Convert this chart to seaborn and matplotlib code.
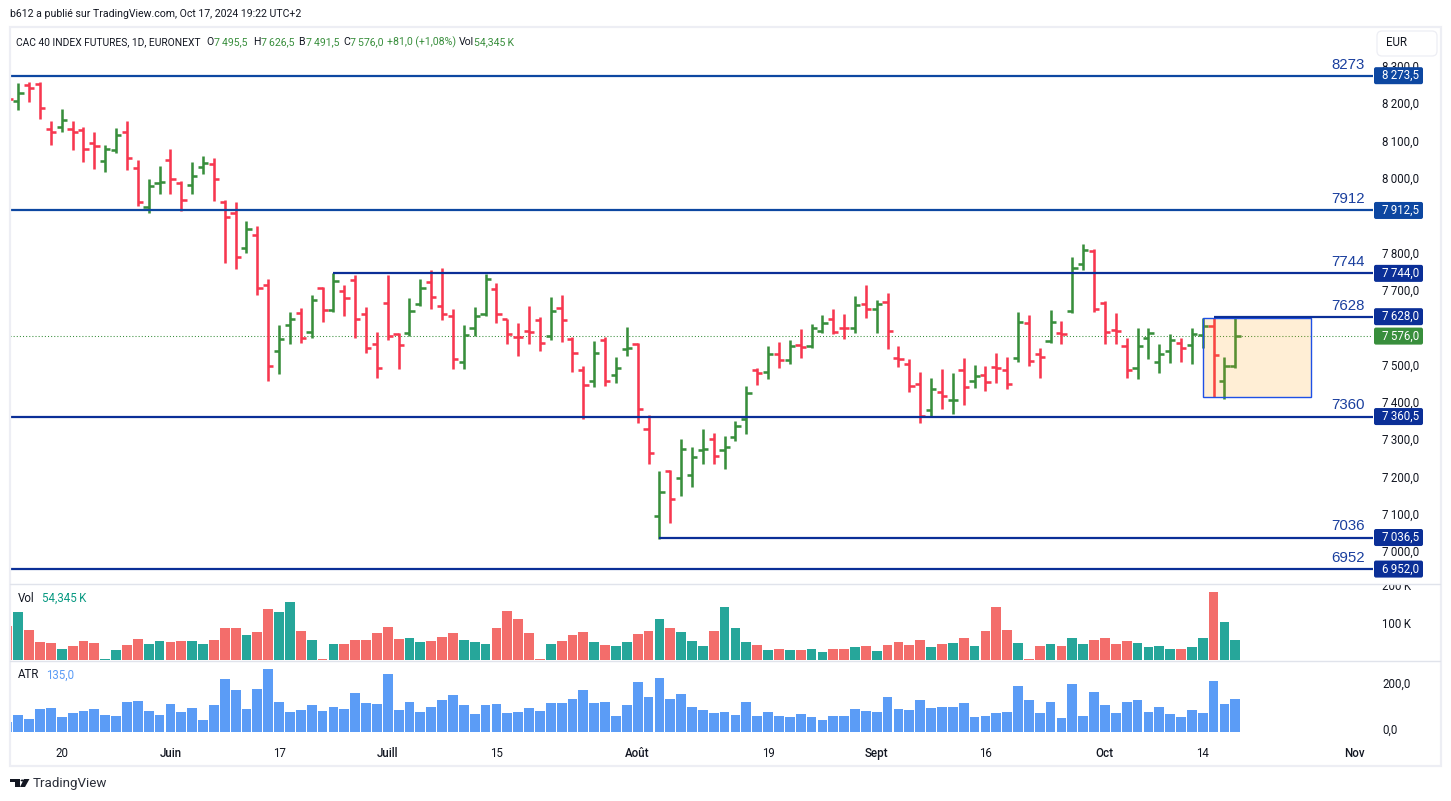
import pandas as pd
import numpy as np
import matplotlib
matplotlib.use("Agg")
import matplotlib.pyplot as plt
from matplotlib.lines import Line2D
from matplotlib.patches import Rectangle, Polygon, Circle, FancyBboxPatch
from matplotlib.transforms import ScaledTranslation, IdentityTransform
import seaborn as sns

W, H = 1451, 801

# OHLC, first entry is the clipped bar on the left edge
opens = [8230,
         8205, 8248, 8250, 8130, 8135, 8130, 8127, 8092, 8044, 8074,
         8124, 8025, 7921, 7985, 8047, 7985, 7982, 8028, 8036, 7934,
         7907, 7811, 7846, 7714, 7535, 7607, 7637, 7586, 7704, 7645,
         7698, 7725, 7634, 7554, 7664, 7581, 7583, 7661, 7720, 7656,
         7629, 7506, 7599, 7634, 7701, 7621, 7573, 7589, 7618, 7575,
         7650, 7567, 7484, 7457, 7565, 7473, 7541, 7554, 7326, 7093,
         7214, 7195, 7203, 7270, 7299.5, 7270, 7305, 7353, 7484, 7479,
         7527, 7511, 7551, 7549, 7589, 7621, 7597, 7597, 7661, 7648,
         7666.5, 7516.5, 7500, 7447, 7377, 7425, 7404, 7484, 7455, 7471,
         7492, 7484, 7516, 7610, 7527, 7562, 7583, 7642, 7768, 7803,
         7664, 7591, 7548.5, 7490, 7570, 7506, 7535, 7557, 7551, 7578,
         7602, 7455, 7495.5]
highs = [8245,
         8253, 8256, 8256, 8152, 8184, 8152, 8136, 8123, 8088, 8133,
         8152, 8048, 7997, 8031, 8077, 7991, 8042, 8058, 8053, 7940,
         7935, 7884, 7871, 7729, 7605, 7640, 7651, 7686, 7707, 7745,
         7712, 7739, 7653, 7587, 7739, 7583, 7678, 7729, 7753, 7758,
         7648, 7606, 7654, 7741, 7718, 7623, 7611, 7657, 7626, 7681,
         7686, 7573, 7495, 7563, 7573, 7520, 7600, 7557, 7365, 7215,
         7217, 7300, 7279, 7327, 7316, 7308, 7349, 7442, 7491, 7549.5,
         7560, 7566, 7595, 7608.5, 7633, 7649, 7635, 7683.5, 7713, 7673,
         7691.5, 7549.5, 7514.5, 7480, 7464, 7488, 7477, 7517, 7498.5, 7496,
         7530.5, 7520, 7640.5, 7632.5, 7544, 7646, 7616, 7788, 7823, 7809,
         7670, 7638, 7571, 7598, 7598, 7555, 7581.5, 7571, 7598, 7624,
         7624, 7520, 7626.5]
lows = [8190,
        8182, 8203, 8158, 8088, 8123, 8074, 8042, 8024, 8015, 8066,
        8021, 7924, 7906, 7957, 7957, 7911, 7957, 8010, 7938, 7772,
        7756, 7798, 7686, 7456, 7474, 7555, 7557, 7571, 7614, 7640,
        7630, 7571, 7531, 7464, 7566, 7488, 7576, 7657, 7649, 7619,
        7488, 7488, 7576, 7630, 7611, 7555, 7523, 7555, 7536, 7566,
        7560, 7480, 7354, 7440, 7442, 7450, 7523, 7343, 7233, 7033,
        7075, 7148, 7172, 7233, 7233, 7220, 7295, 7314, 7445, 7461,
        7491, 7501, 7517, 7544, 7584, 7582, 7568, 7584, 7624.5, 7584,
        7541.5, 7493, 7426, 7343, 7359, 7381, 7367, 7391.5, 7437, 7429,
        7450, 7434, 7506.5, 7496, 7464, 7557.5, 7555, 7638, 7753, 7640,
        7555, 7555, 7464, 7461, 7514.5, 7477, 7504, 7506.5, 7501, 7544,
        7412, 7407.5, 7491.5]
closes = [8210,
          8226, 8240, 8186, 8122, 8154, 8122, 8076, 8084, 8076, 8114,
          8052, 7934, 7977, 7990, 7996, 7940, 8006, 8039, 7998, 7894,
          7789, 7862, 7704, 7497, 7567, 7621, 7570, 7672, 7645, 7723,
          7677, 7623, 7543, 7490, 7575, 7551, 7642, 7704, 7682, 7634,
          7514, 7578, 7629, 7728, 7634, 7581, 7573, 7586, 7557, 7642,
          7618, 7532, 7444, 7532, 7457, 7490, 7543, 7380, 7262, 7157.5,
          7139, 7273, 7251, 7273, 7254, 7278, 7334, 7423, 7476, 7527,
          7511, 7549, 7546, 7597, 7610, 7586, 7597, 7658.5, 7648, 7661,
          7589, 7514, 7441.5, 7361, 7433, 7415, 7404.5, 7439, 7468, 7452,
          7490, 7447, 7613, 7508, 7519, 7613, 7581, 7757.5, 7806, 7648,
          7586, 7589, 7484, 7549, 7583, 7527, 7565, 7543, 7581, 7602,
          7524.5, 7495, 7576]

# Volume in thousands of contracts
volumes = [91.2,
           128.7, 80.4, 48.3, 45.6, 29.5, 37.5, 50.9, 45.6, 2.7, 26.8,
           40.2, 56.3, 42.9, 50.9, 48.3, 50.9, 50.9, 42.9, 53.6, 85.8,
           85.8, 67.0, 75.1, 136.7, 128.7, 155.5, 77.8, 53.6, 2.7, 42.9,
           42.9, 53.6, 53.6, 72.4, 88.5, 56.3, 59.0, 48.3, 50.9, 61.7,
           72.4, 53.6, 48.3, 42.9, 85.8, 131.4, 109.9, 72.4, 2.7, 42.9,
           50.9, 67.0, 75.1, 48.3, 40.2, 37.5, 48.3, 69.7, 77.8, 109.9,
           85.8, 75.1, 50.9, 37.5, 77.8, 142.1, 85.8, 48.3, 40.2, 26.8,
           29.5, 26.8, 26.8, 29.5, 21.4, 29.5, 29.5, 34.9, 37.5, 24.1,
           40.2, 48.3, 40.2, 53.6, 34.9, 42.9, 45.6, 59.0, 37.5, 77.8,
           142.1, 80.4, 45.6, 2.7, 37.5, 42.9, 37.5, 59.0, 42.9, 53.6,
           59.0, 42.9, 50.9, 45.6, 34.9, 37.5, 29.5, 29.5, 34.9, 59.0,
           182.3, 101.9, 54.3]

atr_values = [41,
              69.6, 53.2, 94.1, 98.2, 61.4, 77.7, 85.9, 94.1, 69.6, 65.5,
              122.8, 126.9, 85.9, 69.6, 114.6, 81.8, 98.2, 49.1, 110.5, 216.9,
              171.9, 94.1, 176, 257.8, 122.8, 81.8, 90, 110.5, 85.9, 102.3,
              94.1, 159.6, 118.7, 114.6, 237.3, 90, 122.8, 81.8, 102.3, 130.9,
              151.4, 110.5, 73.7, 110.5, 114.6, 77.7, 81.8, 98.2, 85.9, 118.7,
              118.7, 135, 171.9, 118.7, 122.8, 65.5, 110.5, 204.6, 143.2, 221,
              135, 155.5, 102.3, 90, 77.7, 81.8, 69.6, 122.8, 65.5, 81.8,
              65.5, 61.4, 73.7, 61.4, 49.1, 65.5, 65.5, 94.1, 85.9, 81.8,
              143.2, 94.1, 90, 130.9, 98.2, 102.3, 102.3, 118.7, 61.4, 65.5,
              77.7, 81.8, 188.2, 130.9, 77.7, 122.8, 57.3, 196.4, 65.5, 163.7,
              110.5, 77.7, 122.8, 130.9, 81.8, 102.3, 73.7, 61.4, 90, 77.7,
              208.7, 114.6, 135]

# Horizontal levels drawn on the chart
levels_old = [8273.5, 7912.5]
levels_new = [7744.0, 7628.0, 7360.5, 7036.5, 6952.0]
level_names = {8273.5: "8273", 7912.5: "7912", 7744.0: "7744", 7628.0: "7628",
               7360.5: "7360", 7036.5: "7036", 6952.0: "6952"}
level_starts = {7744.0: 29, 7628.0: 110, 7036.5: 59}

# 7600 and 7900 sit behind the level tags in the original
price_ticks = [7000, 7100, 7200, 7300, 7400, 7500, 7700, 7800,
               8000, 8100, 8200, 8300]
last_price = 7576.0

date_ticks = [4, 14, 24, 34, 44, 57, 69, 79, 89, 100, 109, 123]
date_labels = ["20", "Juin", "17", "Juill", "15", "Août", "19", "Sept", "16", "Oct", "14", "Nov"]
months = ["Juin", "Juill", "Août", "Sept", "Oct", "Nov"]

GREEN = "#388E3C"
RED = "#F7374F"
BLUE_OLD = "#0D47A1"
BLUE_NEW = "#0B2F97"
GRID = "#E0E3EB"
TEXT = "#131722"

sns.set_theme(style="white")
plt.rcParams["font.family"] = ["Roboto", "DejaVu Sans"]
plt.rcParams["text.color"] = TEXT
plt.rcParams["ytick.color"] = TEXT
plt.rcParams["xtick.color"] = TEXT

df = pd.DataFrame({"open": opens, "high": highs, "low": lows, "close": closes,
                   "vol": volumes, "atr": atr_values})
df["bar"] = np.arange(len(df)) - 1
df["dir"] = np.where(df["close"] > df["open"], "up", "down")
bar_colors = df["dir"].map({"up": GREEN, "down": RED}).tolist()


def panel(fig, x0, y0, x1, y1):
    return fig.add_axes([x0 / W, 1 - y1 / H, (x1 - x0) / W, (y1 - y0) / H])


def px_text(fig, x, y, s, **kw):
    kw.setdefault("va", "center")
    kw.setdefault("fontsize", 8.3)
    return fig.text(x / W, 1 - y / H, s, **kw)


def fmt_price(v):
    return f"{v:,.1f}".replace(",", "\u2009").replace(".", ",")


def price_tag(ax, level, color):
    # 17 px tall tag on the price scale, 2.6786 price points per pixel
    ax.add_patch(FancyBboxPatch((1 + 1 / 1363, level - 22.8), 49 / 1363, 45.6,
                                boxstyle=f"round,pad=0,rounding_size={2 / 1363}",
                                mutation_aspect=5.357 * 1363 / 2, facecolor=color, lw=0,
                                transform=ax.get_yaxis_transform(), clip_on=False, zorder=7))
    ax.annotate(fmt_price(level), xy=(1, level), xycoords=ax.get_yaxis_transform(),
                xytext=(6.5, 0), textcoords="offset points", ha="left", va="center",
                color="white", fontsize=8.3, zorder=8)


fig = plt.figure(figsize=(W / 100, H / 100), dpi=100, facecolor="white")
ax = panel(fig, 10, 27, 1373, 584)
ax_vol = panel(fig, 10, 584, 1373, 660)
ax_atr = panel(fig, 10, 661, 1373, 745)

xlim = (-0.764, 124.67)

# Price bars
ax.vlines(df["bar"], df["low"], df["high"], colors=bar_colors, lw=1.85, zorder=2)
ax.hlines(df["open"], df["bar"] - 0.48, df["bar"], colors=bar_colors, lw=1.85, zorder=2)
ax.hlines(df["close"], df["bar"], df["bar"] + 0.48, colors=bar_colors, lw=1.85, zorder=2)

ax.axhline(last_price, color=GREEN, lw=0.75, ls=(0, (1, 2)), zorder=1)

# Orange box on the last bars
ax.add_patch(Rectangle((109, 7412), 10, 211.7, facecolor="#FF9800", alpha=0.165, lw=0, zorder=4))
ax.add_patch(Rectangle((109, 7412), 10, 211.7, fill=False, edgecolor="#1E50E6", lw=1.0, zorder=5))

# Levels with their tags on the price scale
for level in levels_old + levels_new:
    color = BLUE_OLD if level in levels_old else BLUE_NEW
    start = level_starts.get(level, xlim[0])
    ax.hlines(level, start, xlim[1], colors=color, lw=1.6, zorder=6)
    ax.annotate(level_names[level], xy=(1, level), xycoords=ax.get_yaxis_transform(),
                xytext=(-6, 3), textcoords="offset points", ha="right", va="bottom",
                color="#1A3F9E", fontsize=10.8, family=["Liberation Sans"], zorder=7)
    price_tag(ax, level, color)

price_tag(ax, last_price, GREEN)

ax.set_xlim(xlim)
ax.set_ylim(6912, 8403.9)
ax.set_xticks([])
ax.yaxis.tick_right()
ax.set_yticks(price_ticks)
ax.set_yticklabels([fmt_price(t) for t in price_ticks], fontsize=8.3)
ax.tick_params(axis="y", length=0, pad=6.5)

# Volume
sns.barplot(data=df, x="bar", y="vol", hue="dir", palette={"up": "#26A69A", "down": "#F36D6B"},
            native_scale=True, dodge=False, width=0.9, saturation=1, linewidth=0, legend=False, ax=ax_vol)
ax_vol.set_xlim(xlim)
ax_vol.set_ylim(0, 203.8)
ax_vol.set(xlabel=None, ylabel=None)
ax_vol.set_xticks([])
ax_vol.yaxis.tick_right()
ax_vol.set_yticks([100, 200])
ax_vol.set_yticklabels(["100\u2009K", "200\u2009K"], fontsize=8.3)
ax_vol.tick_params(axis="y", length=0, pad=6.5)

# ATR
sns.barplot(data=df, x="bar", y="atr", color="#5B9CF6", native_scale=True, width=0.9,
            saturation=1, linewidth=0, ax=ax_atr)
ax_atr.set_xlim(xlim)
ax_atr.set_ylim(-53.2, 290.5)
ax_atr.set(xlabel=None, ylabel=None)
ax_atr.yaxis.tick_right()
ax_atr.set_yticks([0, 200])
ax_atr.set_yticklabels(["0,0", "200,0"], fontsize=8.3)
ax_atr.tick_params(axis="y", length=0, pad=6.5)
ax_atr.set_xticks(date_ticks)
ax_atr.set_xticklabels(date_labels, fontsize=8.3)
ax_atr.tick_params(axis="x", length=0, pad=1.5)
for lab in ax_atr.get_xticklabels():
    if lab.get_text() in months:
        lab.set_fontweight("medium")
for lab in ax_atr.get_yticklabels():
    if lab.get_text() == "0,0":
        lab.set_transform(lab.get_transform() + ScaledTranslation(0, 3 / 100, fig.dpi_scale_trans))

for a in [ax, ax_vol, ax_atr]:
    sns.despine(ax=a, left=True, right=True, top=True, bottom=True)
    a.grid(False)
    a.set_facecolor("none")

# Header and legends
px_text(fig, 10, 14, "b612 a publié sur TradingView.com, Oct 17, 2024 19:22 UTC+2", fontsize=7.55)
px_text(fig, 16, 42, "CAC 40 INDEX FUTURES, 1D, EURONEXT", fontsize=7.35)
header_parts = [(206, "O", TEXT), (214, "7\u2009495,5", GREEN), (253, "H", TEXT), (261, "7\u2009626,5", GREEN),
                (298, "B", TEXT), (306, "7\u2009491,5", GREEN), (343, "C", TEXT), (350, "7\u2009576,0", GREEN),
                (387, "+81,0 (+1,08%)", GREEN), (459, "Vol", TEXT), (474, "54,345\u2009K", GREEN)]
for hx, s, c in header_parts:
    px_text(fig, hx, 42, s, color=c, fontsize=7.6)
px_text(fig, 18, 598, "Vol")
px_text(fig, 42, 598, "54,345\u2009K", color="#089981")
px_text(fig, 18, 675, "ATR")
px_text(fig, 46, 675, "135,0", color="#5B9CF6")

# Frame, separators and the piece of 200 K hidden by the price pane
to_fig = lambda x, y: (x / W, 1 - y / H)
fig.add_artist(Rectangle(to_fig(1375, 584), 63 / W, 6 / H, facecolor="white", lw=0, transform=fig.transFigure))
for sep_y in [584, 660.5]:
    fig.add_artist(Line2D([10 / W, 1440 / W], [1 - sep_y / H] * 2, color=GRID, lw=1, transform=fig.transFigure))
fig.add_artist(Rectangle(to_fig(10, 766), 1430.5 / W, 739 / H, fill=False, edgecolor="#EDEEF4", lw=1.6,
                         transform=fig.transFigure))
fig.add_artist(FancyBboxPatch((1377, H - 56), 60, 25, boxstyle="round,pad=0,rounding_size=5",
                              facecolor="white", edgecolor="#EDEEF4", lw=0.9, transform=IdentityTransform()))
px_text(fig, 1386, 43, "EUR", fontsize=8.3)

# TradingView logo
logo = [[(10, 779), (20, 779), (20, 787), (15, 787), (15, 782), (10, 782)],
        [(24, 779), (29.5, 779), (25, 787), (20, 787)]]
for pts in logo:
    fig.add_artist(Polygon([to_fig(*p) for p in pts], closed=True, facecolor=TEXT, lw=0, transform=fig.transFigure))
fig.add_artist(Circle(to_fig(22.3, 780.5), 1.7 / W, facecolor=TEXT, lw=0, transform=fig.transFigure))
px_text(fig, 33, 784, "TradingView", fontsize=9.6, color="#2A2E39")

fig.savefig("out.png", dpi=100)
